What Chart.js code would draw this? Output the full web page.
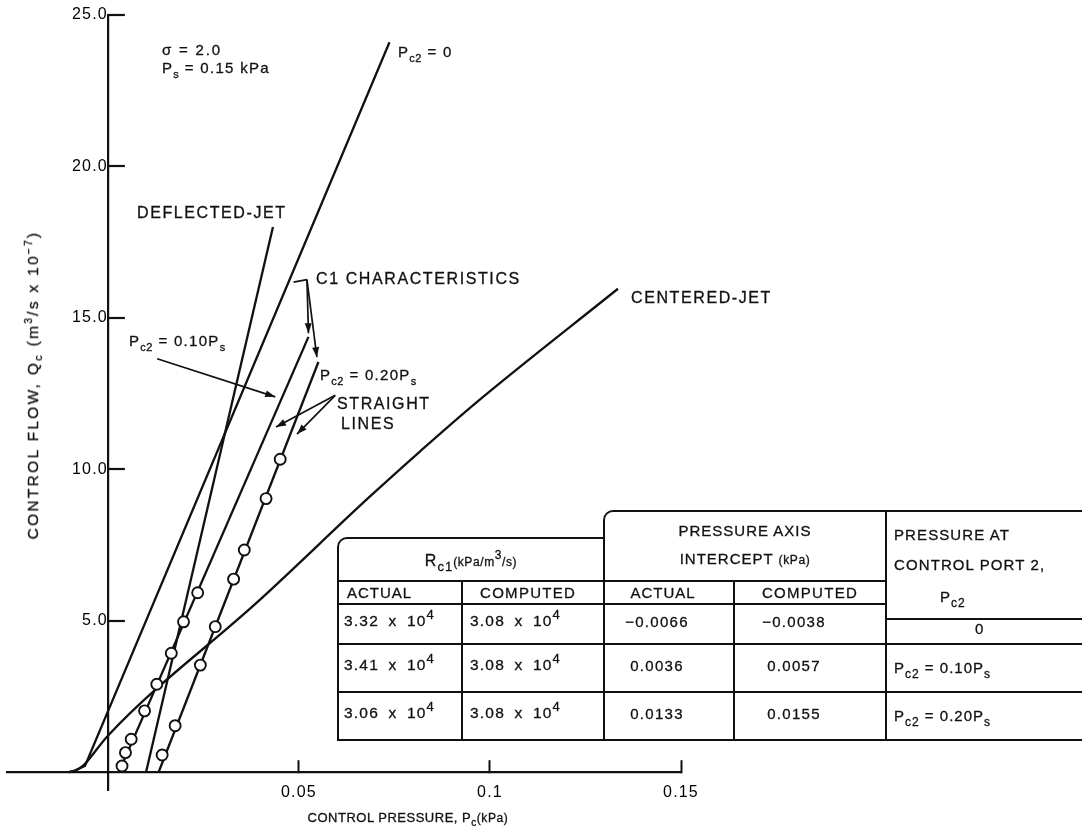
<!DOCTYPE html>
<html>
<head>
<meta charset="utf-8">
<script src="https://cdn.jsdelivr.net/npm/chart.js@4.4.1/dist/chart.umd.min.js"></script>
<style>
  html, body { margin: 0; padding: 0; background: #fff; }
  #wrap { position: relative; width: 1082px; height: 833px; overflow: hidden;
          font-family: "Liberation Sans", Arial, sans-serif; color: #111;
          -webkit-text-stroke: 0.3px #111; }
  #chart { position: absolute; left: 0; top: 0; }
  sub, sup { line-height: 0; }
  .lbl { position: absolute; white-space: nowrap; font-size: 15px; letter-spacing: 1.3px;
         line-height: 1; transform: translateY(-50%); }
  .lbl sub { font-size: 11px; vertical-align: -5px; letter-spacing: 0.5px; }
  .big { font-size: 16px; letter-spacing: 1.6px; }
  .ytitle { position: absolute; left: 33px; top: 385px; white-space: nowrap; font-size: 15.5px;
            letter-spacing: 2.3px; transform: translate(-50%, -50%) rotate(-90deg); }
  .ytitle sub { font-size: 11px; vertical-align: -4px; }
  .ytitle sup, .xtitle sup { font-size: 10px; vertical-align: 6px; }
  .xtitle { position: absolute; left: 408px; top: 817px; white-space: nowrap; font-size: 13px;
            letter-spacing: 0.5px; transform: translate(-50%, -50%); }
  .xtitle sub { font-size: 10px; vertical-align: -4px; }
  .small { font-size: 12px; letter-spacing: 0.6px; }
  .cell { position: absolute; box-sizing: border-box; border-left: 2px solid #111; border-top: 2px solid #111;
          display: flex; align-items: center; font-size: 15px; letter-spacing: 1px; white-space: nowrap;
          line-height: 1.15; }
  .cell sup { font-size: 12px; vertical-align: 7px; }
  .cell sub { font-size: 12px; vertical-align: -5px; }
  .num { font-size: 15.5px; letter-spacing: 1.2px; word-spacing: 4px; }
  .num sup { font-size: 13px; }
  .hd { font-size: 15px; letter-spacing: 1.1px; }
</style>
</head>
<body>
<div id="wrap">
  <canvas id="chart" width="1082" height="833"></canvas>

  <div class="lbl" style="left:162px; top:49px; letter-spacing:1.8px;">σ = 2.0</div>
  <div class="lbl" style="left:162px; top:67px;">P<sub>s</sub> = 0.15 kPa</div>
  <div class="lbl" style="left:398px; top:51px;">P<sub>c2</sub> = 0</div>
  <div class="lbl big" style="left:137px; top:213px;">DEFLECTED-JET</div>
  <div class="lbl big" style="left:316px; top:279px;">C1 CHARACTERISTICS</div>
  <div class="lbl big" style="left:631px; top:298px;">CENTERED-JET</div>
  <div class="lbl" style="left:129px; top:340px;">P<sub>c2</sub> = 0.10P<sub>s</sub></div>
  <div class="lbl" style="left:320px; top:374px;">P<sub>c2</sub> = 0.20P<sub>s</sub></div>
  <div class="lbl big" style="left:337px; top:404px;">STRAIGHT</div>
  <div class="lbl big" style="left:341px; top:424px;">LINES</div>

  <div class="ytitle">CONTROL FLOW, Q<sub>c</sub> (m<sup>3</sup>/s x 10<sup>−7</sup>)</div>
  <div class="xtitle">CONTROL PRESSURE, P<sub>c</sub><span class="small">(kPa)</span></div>

  <div id="table"></div>
</div>

<script>
// control pressure (kPa) / control flow (m3/s x 1e-7)
const pc2ZeroX = [-0.0102, -0.0086, -0.0072, -0.0060, 0.0737];
const pc2ZeroY = [0, 0.05, 0.13, 0.20, 24.1];

const centeredX = [-0.0102, -0.0086, -0.0072, -0.0060, 0, 0.0399, 0.0686, 0.0818, 0.0964, 0.1335];
const centeredY = [0, 0.05, 0.14, 0.27, 1.2, 5.7, 9.1, 10.6, 12.2, 15.96];

const deflectedX = [0.0100, 0.0432];
const deflectedY = [0, 18.0];

const line10X = [0.0029, 0.0525];
const line10Y = [0, 14.37];
const line20X = [0.0133, 0.0551];
const line20Y = [0, 13.54];

const pts10X = [0.0037, 0.0046, 0.0061, 0.0096, 0.0128, 0.0166, 0.0198, 0.0235];
const pts10Y = [0.2, 0.64, 1.08, 2.02, 2.9, 3.92, 4.96, 5.92];
const pts20X = [0.0142, 0.0176, 0.0242, 0.0281, 0.0329, 0.0357, 0.0414, 0.0451];
const pts20Y = [0.56, 1.53, 3.53, 4.8, 6.37, 7.33, 9.03, 10.33];

const xTicks = [0.05, 0.1, 0.15];
const yTicks = [5, 10, 15, 20, 25];

// table values
const rc1Actual = ['3.32', '3.41', '3.06'];
const rc1Computed = ['3.08', '3.08', '3.08'];
const interceptActual = ['\u22120.0066', '0.0036', '0.0133'];
const interceptComputed = ['\u22120.0038', '0.0057', '0.0155'];
const pc2Cases = ['0', '0.10', '0.20'];

// annotation arrows, in data units
const bracket = [[0.0486, 16.18], [0.0521, 16.26]];
const arrows = [
    { from: [0.0129, 13.65], to: [0.0438, 12.39] },
    { from: [0.0521, 16.26], to: [0.0525, 14.49] },
    { from: [0.0521, 16.26], to: [0.0547, 13.70] },
    { from: [0.0595, 12.44], to: [0.0440, 11.39] },
    { from: [0.0595, 12.44], to: [0.0495, 11.16] }
];

const zip = (xs, ys) => xs.map((v, i) => ({ x: v, y: ys[i] }));
const ink = '#111';

function lineSet(xs, ys, smooth) {
    return {
        data: zip(xs, ys),
        showLine: true,
        borderColor: ink,
        borderWidth: 2.3,
        pointRadius: 0,
        cubicInterpolationMode: smooth ? 'monotone' : 'default',
        tension: 0
    };
}
function circleSet(xs, ys) {
    return {
        data: zip(xs, ys),
        showLine: false,
        pointRadius: 5.5,
        pointBackgroundColor: '#fff',
        pointBorderColor: ink,
        pointBorderWidth: 1.9
    };
}

const annot = {
    id: 'annot',
    beforeDraw(chart) {
        chart.ctx.letterSpacing = '1.2px';
    },
    afterDatasetsDraw(chart) {
        const { ctx, scales: { x, y } } = chart;
        const px = p => [x.getPixelForValue(p[0]), y.getPixelForValue(p[1])];
        ctx.save();
        ctx.strokeStyle = ink;
        ctx.fillStyle = ink;

        // y tick marks point into the plot
        ctx.lineWidth = 2.2;
        const x0 = x.getPixelForValue(0);
        yTicks.forEach(v => {
            const yy = Math.round(y.getPixelForValue(v));
            ctx.beginPath();
            ctx.moveTo(x0, yy);
            ctx.lineTo(x0 + 17, yy);
            ctx.stroke();
        });

        ctx.lineWidth = 1.7;
        const b0 = px(bracket[0]), b1 = px(bracket[1]);
        ctx.beginPath();
        ctx.moveTo(b0[0], b0[1]);
        ctx.lineTo(b1[0], b1[1]);
        ctx.stroke();
        arrows.forEach(a => {
            const [ax, ay] = px(a.from);
            const [bx, by] = px(a.to);
            const ang = Math.atan2(by - ay, bx - ax);
            ctx.beginPath();
            ctx.moveTo(ax, ay);
            ctx.lineTo(bx, by);
            ctx.stroke();
            ctx.beginPath();
            ctx.moveTo(bx, by);
            ctx.lineTo(bx - 10 * Math.cos(ang) + 3.5 * Math.sin(ang), by - 10 * Math.sin(ang) - 3.5 * Math.cos(ang));
            ctx.lineTo(bx - 10 * Math.cos(ang) - 3.5 * Math.sin(ang), by - 10 * Math.sin(ang) + 3.5 * Math.cos(ang));
            ctx.closePath();
            ctx.fill();
        });
        ctx.restore();
    }
};

new Chart(document.getElementById('chart'), {
    type: 'scatter',
    data: {
        datasets: [
            circleSet(pts10X, pts10Y),
            circleSet(pts20X, pts20Y),
            lineSet(pc2ZeroX, pc2ZeroY, false),
            lineSet(centeredX, centeredY, true),
            lineSet(deflectedX, deflectedY, false),
            lineSet(line10X, line10Y, false),
            lineSet(line20X, line20Y, false)
        ]
    },
    options: {
        responsive: false,
        animation: false,
        devicePixelRatio: 1,
        layout: { padding: { left: 6.7, top: 15, right: 401, bottom: 43 } },
        plugins: { legend: { display: false }, tooltip: { enabled: false } },
        scales: {
            x: {
                type: 'linear',
                position: { y: 0 },
                min: -0.0263,
                max: 0.15,
                afterBuildTicks: s => { s.ticks = xTicks.map(v => ({ value: v })); },
                border: { color: ink, width: 2.2 },
                grid: { drawOnChartArea: false, tickLength: -13, tickColor: ink, tickWidth: 2 },
                ticks: {
                    padding: 24,
                    color: '#000',
                    font: { family: 'Liberation Sans', size: 16 },
                    callback: v => String(v)
                }
            },
            y: {
                type: 'linear',
                position: { x: 0 },
                min: -0.594,
                max: 25,
                afterBuildTicks: s => { s.ticks = yTicks.map(v => ({ value: v })); },
                border: { color: ink, width: 2.2 },
                grid: { drawOnChartArea: false, drawTicks: false },
                ticks: {
                    padding: 3,
                    color: '#000',
                    font: { family: 'Liberation Sans', size: 16 },
                    callback: v => v.toFixed(1)
                }
            }
        }
    },
    plugins: [annot]
});

// the inset table, built as html cells
const table = document.getElementById('table');
function cell(x0, y0, x1, y1, html, style) {
    const d = document.createElement('div');
    d.className = 'cell';
    d.style.left = x0 + 'px';
    d.style.top = y0 + 'px';
    d.style.width = (x1 - x0) + 'px';
    d.style.height = (y1 - y0) + 'px';
    if (style) d.style.cssText += style;
    d.innerHTML = '<span>' + html + '</span>';
    table.appendChild(d);
}
const cx = [337, 461, 603, 733, 885, 1100];
const ry = [603, 643, 691, 739];

cell(cx[0], 537, cx[2], 580, '<span style="font-size:16px">R</span><sub style="font-size:13px">c1</sub><span class="small">(kPa/m<sup>3</sup>/s)</span>',
     'justify-content:center; border-top-left-radius:10px; padding-top:4px;');
cell(cx[0], 580, cx[1], 603, 'ACTUAL', 'padding-left:8px;');
cell(cx[1], 580, cx[2], 603, 'COMPUTED', 'padding-left:17px; letter-spacing:1.3px;');
cell(cx[2], 510, cx[4], 580, 'PRESSURE AXIS<br>INTERCEPT <span class="small">(kPa)</span>',
     'justify-content:center; text-align:center; border-top-left-radius:10px; line-height:1.85; font-size:15px; padding-bottom:2px;');
cell(cx[2], 580, cx[3], 603, 'ACTUAL', 'justify-content:center; padding-right:12px;');
cell(cx[3], 580, cx[4], 603, 'COMPUTED', 'justify-content:center; letter-spacing:1.3px;');
cell(cx[4], 510, cx[5], 619,
     '<div class="hd">PRESSURE AT</div><div class="hd" style="margin-top:15px">CONTROL PORT 2,</div>' +
     '<div style="margin-top:17px; padding-left:46px">P<sub>c2</sub></div>',
     'padding-left:7px; line-height:1; align-items:flex-start; padding-top:15px;');

for (let r = 0; r < 3; r++) {
    const y0 = ry[r], y1 = ry[r + 1];
    cell(cx[0], y0, cx[1], y1, '<span class="num">' + rc1Actual[r] + ' x 10<sup>4</sup></span>', 'padding-left:5px; padding-bottom:6px;');
    cell(cx[1], y0, cx[2], y1, '<span class="num">' + rc1Computed[r] + ' x 10<sup>4</sup></span>', 'padding-left:7px; padding-bottom:6px;');
    cell(cx[2], y0, cx[3], y1, interceptActual[r], 'justify-content:center; padding-right:24px; padding-bottom:4px; letter-spacing:1.3px;');
    cell(cx[3], y0, cx[4], y1, interceptComputed[r], 'justify-content:center; padding-right:32px; padding-bottom:4px; letter-spacing:1.3px;');
    if (r === 0) {
        cell(cx[4], 618, cx[5], y1, pc2Cases[r], 'padding-left:88px; padding-bottom:6px;');
    } else {
        cell(cx[4], y0, cx[5], y1, 'P<sub>c2</sub> = ' + pc2Cases[r] + 'P<sub>s</sub>', 'padding-left:7px;');
    }
}
cell(cx[0], ry[3], cx[5], ry[3] + 2, '', 'border-left:none;');
</script>
</body>
</html>
